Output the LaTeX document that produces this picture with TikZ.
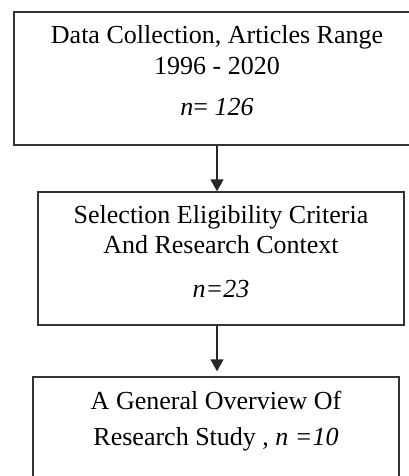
\documentclass[tikz,border=0pt]{standalone}
\usepackage{fontspec}
\setmainfont{Liberation Serif}
\usetikzlibrary{arrows.meta}

\tikzset{
	stage/.style={draw=black!80, line width=1.3pt, rectangle, minimum height=133pt, inner sep=0pt},
	caption/.style={align=center, anchor=north, inner sep=0pt, font=\fontsize{26}{31}\selectfont},
	flow/.style={-{Triangle[width=13pt, length=12pt]}, line width=1.3pt, black!85}
}

\begin{document}
\begin{tikzpicture}[x=1pt, y=-1pt]
	\useasboundingbox (0,0) rectangle (409,476);

	\node[stage, minimum width=406pt] (collect)  at (217,78.5)  {};
	\node[stage, minimum width=366pt] (select)   at (221,258.5) {};
	\node[stage, minimum width=366pt] (overview) at (216,443.5) {};

	\node[caption] (collecttext) at (217,25)
		{Data Collection, Articles Range\\ 1996 - 2020\\[10pt] \textit{n}= \textit{126}};
	\node[caption] (selecttext) at (221,205)
		{Selection Eligibility Criteria\\[-1pt] And Research Context\\[13pt] \textit{n=23}};
	\node[caption] (overviewtext) at (216,391)
		{A General Overview Of\\[5pt] Research Study , \textit{n =10}};

	\draw[flow] (collect.south) -- (select.north -| collect.south);
	\draw[flow, shorten >=5pt] (select.south -| collect.south) -- (overview.north -| collect.south);
\end{tikzpicture}
\end{document}
